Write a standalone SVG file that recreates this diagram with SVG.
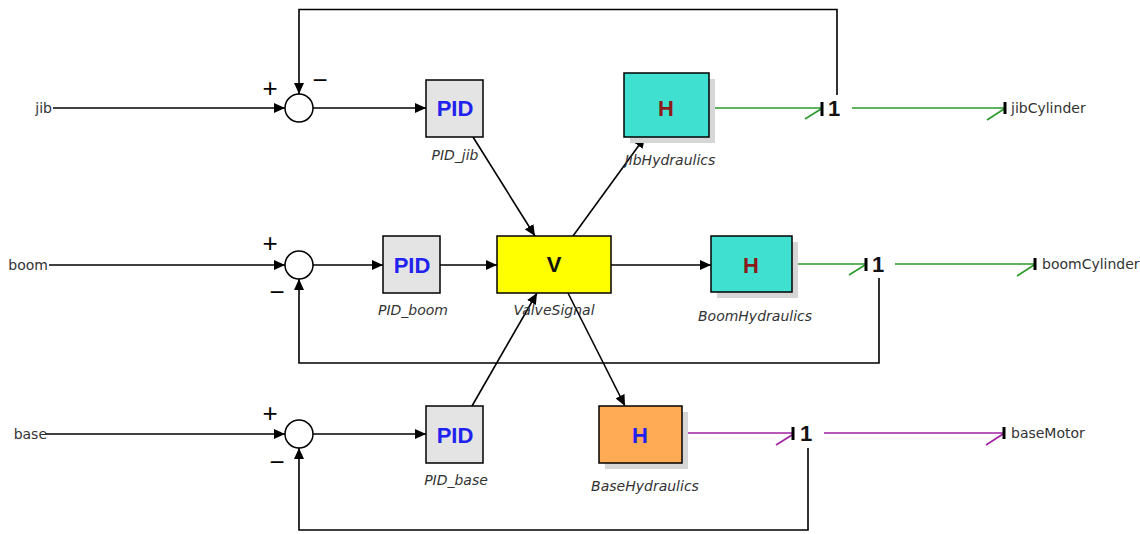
<svg xmlns="http://www.w3.org/2000/svg" width="1140" height="534" viewBox="0 0 1140 534">
<defs>
<marker id="ah" markerUnits="userSpaceOnUse" markerWidth="12" markerHeight="10" refX="11" refY="5" orient="auto"><path d="M0,0 L11,5 L0,10 z" fill="#000"/></marker>
<style>
.w{stroke:#000;stroke-width:1.6;fill:none}
.wa{stroke:#000;stroke-width:1.6;fill:none;marker-end:url(#ah)}
.g{stroke:#2a9a2a;stroke-width:1.6;fill:none}
.p{stroke:#a020a0;stroke-width:1.6;fill:none}
.bar{stroke:#000;stroke-width:3}
.sum{fill:#fff;stroke:#000;stroke-width:1.5}
.pid{fill:#e4e4e4;stroke:#000;stroke-width:1.5}
.sh{fill:#d6d6d6}
.lbl{font-family:"DejaVu Sans","Liberation Sans",sans-serif;font-size:14px;font-style:italic;fill:#333;text-anchor:middle}
.io{font-family:"DejaVu Sans","Liberation Sans",sans-serif;font-size:14px;fill:#333}
.big{font-family:"Liberation Sans",Arial,sans-serif;font-size:22px;font-weight:bold;text-anchor:middle}
.hh{font-family:"Liberation Sans",Arial,sans-serif;font-size:22px;font-weight:bold;text-anchor:middle}
.one{font-family:"Liberation Sans",Arial,sans-serif;font-size:22px;font-weight:bold;text-anchor:middle;fill:#111}
.sg{font-family:"Liberation Sans",Arial,sans-serif;font-size:26px;fill:#000;text-anchor:middle}
</style>
</defs>
<rect width="1140" height="534" fill="#fff"/>

<g id="connectors">
<line class="wa" x1="53" y1="108" x2="285" y2="108"/>
<line class="wa" x1="49" y1="265" x2="285" y2="265"/>
<line class="wa" x1="45" y1="434" x2="285" y2="434"/>
<line class="wa" x1="313" y1="108" x2="426" y2="108"/>
<line class="wa" x1="313" y1="265" x2="383" y2="265"/>
<line class="wa" x1="313" y1="434" x2="426" y2="434"/>
<line class="wa" x1="440" y1="265" x2="497" y2="265"/>
<line class="wa" x1="473" y1="137" x2="535" y2="236"/>
<line class="wa" x1="472" y1="406" x2="537" y2="293"/>
<line class="wa" x1="611" y1="265" x2="711" y2="265"/>
<line class="wa" x1="573" y1="236" x2="645" y2="137"/>
<line class="wa" x1="568" y1="293" x2="625" y2="406"/>
<line class="g" x1="709" y1="108" x2="822" y2="108"/>
<line class="g" x1="805" y1="119" x2="821" y2="109"/>
<line class="g" x1="792" y1="264" x2="866" y2="264"/>
<line class="g" x1="849" y1="275" x2="865" y2="265"/>
<line class="p" x1="682" y1="433" x2="793" y2="433"/>
<line class="p" x1="776" y1="445" x2="792" y2="435"/>
<line class="g" x1="852" y1="108" x2="1005" y2="108"/>
<line class="g" x1="987" y1="120" x2="1004" y2="109"/>
<line class="g" x1="895" y1="264" x2="1035" y2="264"/>
<line class="g" x1="1017" y1="276" x2="1034" y2="265"/>
<line class="p" x1="824" y1="433" x2="1004" y2="433"/>
<line class="p" x1="986" y1="445" x2="1003" y2="434"/>
<polyline class="wa" points="837,95 837,9.5 299,9.5 299,94"/>
<polyline class="wa" points="879,278 879,363 299,363 299,279"/>
<polyline class="wa" points="808,448 808,530 299,530 299,448"/>
</g>

<g id="in_jib"><text class="io" x="52" y="113" text-anchor="end">jib</text></g>
<g id="in_boom"><text class="io" x="48" y="270" text-anchor="end">boom</text></g>
<g id="in_base"><text class="io" x="47" y="439" text-anchor="end">base</text></g>

<g id="sum_jib">
<circle class="sum" cx="299" cy="108" r="14"/>
<text class="sg" x="270" y="97">+</text>
<text class="sg" x="320" y="89">−</text>
</g>
<g id="sum_boom">
<circle class="sum" cx="299" cy="265" r="14"/>
<text class="sg" x="270" y="252">+</text>
<text class="sg" x="277" y="301">−</text>
</g>
<g id="sum_base">
<circle class="sum" cx="299" cy="434" r="14"/>
<text class="sg" x="270" y="422">+</text>
<text class="sg" x="277" y="471">−</text>
</g>

<g id="PID_jib">
<rect class="pid" x="426" y="80" width="57" height="57"/>
<text class="big" x="455" y="116" fill="#2222ee">PID</text>
<text class="lbl" x="455" y="160">PID_jib</text>
</g>
<g id="PID_boom">
<rect class="pid" x="383" y="236" width="57" height="57"/>
<text class="big" x="412" y="273" fill="#2222ee">PID</text>
<text class="lbl" x="413" y="315">PID_boom</text>
</g>
<g id="PID_base">
<rect class="pid" x="426" y="406" width="57" height="57"/>
<text class="big" x="455" y="443" fill="#2222ee">PID</text>
<text class="lbl" x="456" y="485">PID_base</text>
</g>

<g id="ValveSignal">
<rect x="497" y="236" width="114" height="57" fill="#ffff00" stroke="#000" stroke-width="1.5"/>
<text class="big" x="554" y="272" fill="#111" font-size="20">V</text>
<text class="lbl" x="554" y="315">ValveSignal</text>
</g>

<g id="JibHydraulics">
<rect class="sh" x="630" y="79" width="85" height="64"/>
<rect x="624" y="73" width="85" height="64" fill="#40e0d0" stroke="#000" stroke-width="1.5"/>
<text class="hh" x="666" y="116" fill="#8b1a1a">H</text>
<text class="lbl" x="670" y="165">JibHydraulics</text>
</g>
<g id="BoomHydraulics">
<rect class="sh" x="717" y="242" width="81" height="56"/>
<rect x="711" y="236" width="81" height="56" fill="#40e0d0" stroke="#000" stroke-width="1.5"/>
<text class="hh" x="751" y="273" fill="#8b1a1a">H</text>
<text class="lbl" x="755" y="321">BoomHydraulics</text>
</g>
<g id="BaseHydraulics">
<rect class="sh" x="605" y="412" width="83" height="57"/>
<rect x="599" y="406" width="83" height="57" fill="#ffaa55" stroke="#000" stroke-width="1.5"/>
<text class="hh" x="640" y="443" fill="#2222ee">H</text>
<text class="lbl" x="645" y="491">BaseHydraulics</text>
</g>

<g id="junction_jib">
<line class="bar" x1="822" y1="102" x2="822" y2="116"/>
<text class="one" x="834" y="116">1</text>
</g>
<g id="junction_boom">
<line class="bar" x1="866" y1="258" x2="866" y2="271"/>
<text class="one" x="878" y="272">1</text>
</g>
<g id="junction_base">
<line class="bar" x1="793" y1="427" x2="793" y2="440"/>
<text class="one" x="806" y="441">1</text>
</g>

<g id="out_jibCylinder">
<line class="bar" x1="1005" y1="102" x2="1005" y2="114"/>
<text class="io" x="1011" y="113">jibCylinder</text>
</g>
<g id="out_boomCylinder">
<line class="bar" x1="1035" y1="258" x2="1035" y2="270"/>
<text class="io" x="1042" y="269">boomCylinder</text>
</g>
<g id="out_baseMotor">
<line class="bar" x1="1004" y1="427" x2="1004" y2="439"/>
<text class="io" x="1011" y="438">baseMotor</text>
</g>
</svg>
